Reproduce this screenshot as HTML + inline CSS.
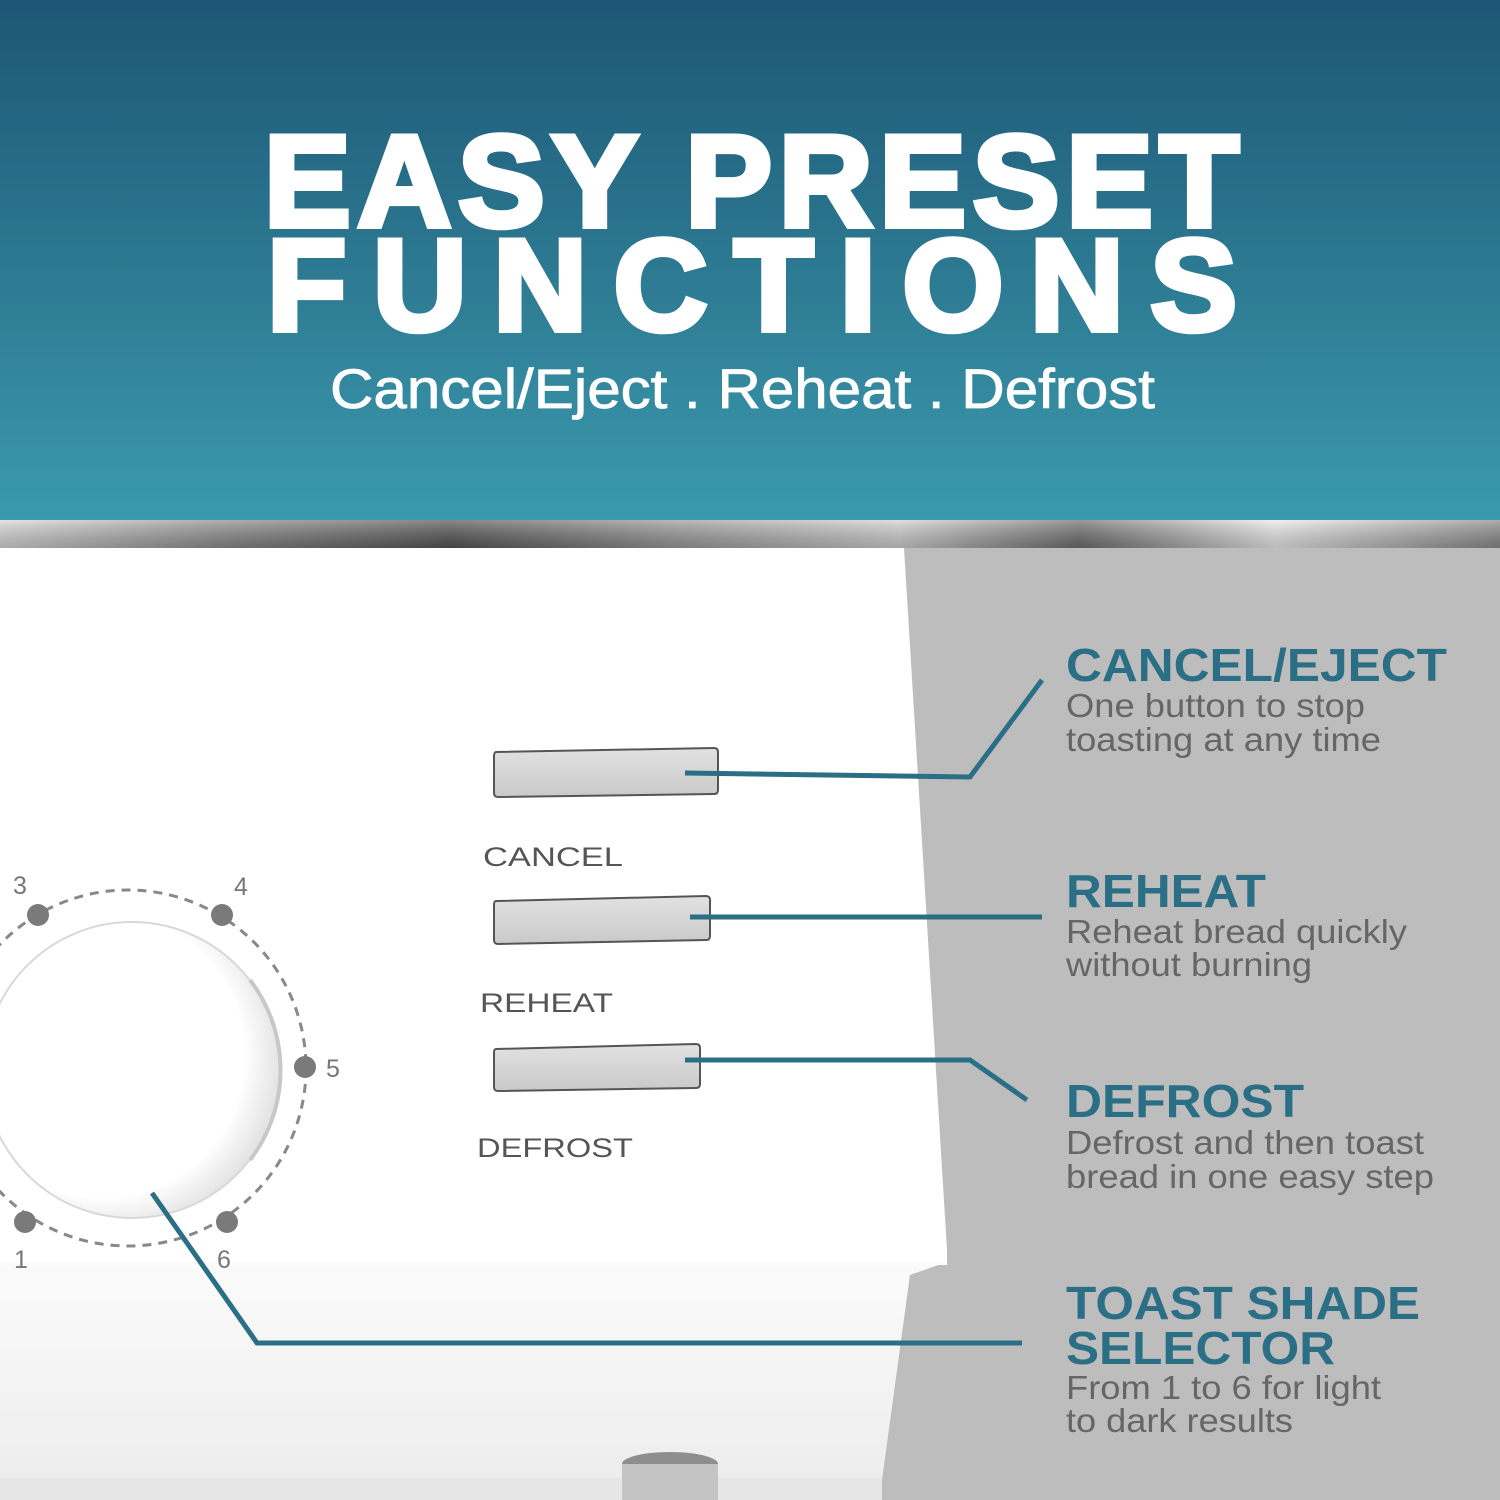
<!DOCTYPE html>
<html><head><meta charset="utf-8"><style>
html,body{margin:0;padding:0}
body{width:1500px;height:1500px;position:relative;overflow:hidden;background:#bdbdbd;font-family:"Liberation Sans",sans-serif}
</style></head><body>
<svg width="1500" height="1500" viewBox="0 0 1500 1500" xmlns="http://www.w3.org/2000/svg" style="position:absolute;left:0;top:0">
<defs>
<linearGradient id="hdr" x1="0" y1="0" x2="0" y2="1">
<stop offset="0" stop-color="#1d5675"/><stop offset="1" stop-color="#3b9aad"/></linearGradient>
<linearGradient id="metal" x1="0" y1="0" x2="1" y2="0">
<stop offset="0" stop-color="#d8d8d8"/><stop offset="0.15" stop-color="#8c8c8c"/><stop offset="0.3" stop-color="#555"/>
<stop offset="0.45" stop-color="#9a9a9a"/><stop offset="0.6" stop-color="#d0d0d0"/><stop offset="0.72" stop-color="#6e6e6e"/>
<stop offset="0.85" stop-color="#eaeaea"/><stop offset="1" stop-color="#8a8a8a"/></linearGradient>
<linearGradient id="metalv" x1="0" y1="0" x2="0" y2="1">
<stop offset="0" stop-color="#fff" stop-opacity="0.3"/><stop offset="1" stop-color="#000" stop-opacity="0.2"/></linearGradient>
<linearGradient id="btn" x1="0" y1="0" x2="0" y2="1">
<stop offset="0" stop-color="#e2e2e2"/><stop offset="1" stop-color="#c9c9c9"/></linearGradient>
<linearGradient id="base" x1="0" y1="0" x2="0" y2="1">
<stop offset="0" stop-color="#fbfbfb"/><stop offset="1" stop-color="#ededed"/></linearGradient>
<radialGradient id="knob" cx="0.4" cy="0.45" r="0.6">
<stop offset="0.8" stop-color="#ffffff"/><stop offset="1" stop-color="#e4e4e4"/></radialGradient>
</defs>
<rect x="0" y="0" width="1500" height="522" fill="url(#hdr)"/>
<rect x="0" y="520" width="1500" height="28" fill="url(#metal)"/>
<rect x="0" y="520" width="1500" height="28" fill="url(#metalv)"/>
<polygon points="0,548 904,548 947,1250 947,1265 0,1265" fill="#ffffff"/>
<polygon points="0,1262 947,1262 910,1275 882,1480 0,1480" fill="url(#base)"/>
<rect x="0" y="1478" width="882" height="22" fill="#e6e6e6"/>
<ellipse cx="670" cy="1464" rx="48" ry="12" fill="#8e8e8e"/>
<rect x="622" y="1464" width="96" height="40" fill="#c4c4c4"/>
<circle cx="128" cy="1068" r="178" fill="none" stroke="#888" stroke-width="3" stroke-dasharray="9,7"/>
<circle cx="132" cy="1070" r="148" fill="url(#knob)" stroke="#d8d8d8" stroke-width="2"/>
<path d="M 250 980 A 148 148 0 0 1 250 1160" fill="none" stroke="#c8c8c8" stroke-width="4"/>
<g fill="#7a7a7a"><circle cx="38" cy="915" r="11"/><circle cx="222" cy="915" r="11"/><circle cx="305" cy="1067" r="11"/><circle cx="227" cy="1222" r="11"/><circle cx="25" cy="1222" r="11"/></g>
<g fill="#777" font-size="25" font-family="Liberation Sans,sans-serif">
<text x="13" y="894">3</text><text x="234" y="895">4</text><text x="326" y="1077">5</text><text x="217" y="1268">6</text><text x="14" y="1268">1</text></g>
<g stroke="#555" stroke-width="2" fill="url(#btn)">
<path d="M496 752 L714 748 Q718 748 718 752 L718 790 Q718 794 714 794 L498 797 Q494 797 494 793 L494 757 Q494 752 496 752Z"/>
<path d="M496 901 L706 896 Q710 896 710 900 L710 936 Q710 940 706 940 L498 944 Q494 944 494 940 L494 905 Q494 901 496 901Z"/>
<path d="M496 1049 L696 1044 Q700 1044 700 1048 L700 1084 Q700 1088 696 1088 L498 1091 Q494 1091 494 1087 L494 1053 Q494 1049 496 1049Z"/>
</g>
<g fill="#555" font-size="27" font-family="Liberation Sans,sans-serif">
<text x="483" y="866" textLength="140" lengthAdjust="spacingAndGlyphs">CANCEL</text>
<text x="480" y="1012" textLength="133" lengthAdjust="spacingAndGlyphs">REHEAT</text>
<text x="477" y="1157" textLength="156" lengthAdjust="spacingAndGlyphs">DEFROST</text>
</g>
<g fill="none" stroke="#2a6f85" stroke-width="5" stroke-linejoin="miter">
<polyline points="685,773 970,777 1042,680"/>
<polyline points="690,917 1042,917"/>
<polyline points="685,1060 970,1060 1027,1100"/>
<polyline points="152,1193 257,1343 1022,1343"/>
</g>
<g fill="#2a6f85" font-weight="bold" font-size="46" font-family="Liberation Sans,sans-serif">
<text x="1066" y="681" textLength="381" lengthAdjust="spacingAndGlyphs">CANCEL/EJECT</text>
<text x="1066" y="907" textLength="200" lengthAdjust="spacingAndGlyphs">REHEAT</text>
<text x="1066" y="1117" textLength="238" lengthAdjust="spacingAndGlyphs">DEFROST</text>
<text x="1066" y="1319" textLength="354" lengthAdjust="spacingAndGlyphs">TOAST SHADE</text>
<text x="1066" y="1364" textLength="269" lengthAdjust="spacingAndGlyphs">SELECTOR</text>
</g>
<g fill="#666" font-size="33" font-family="Liberation Sans,sans-serif">
<text x="1066" y="717" textLength="299" lengthAdjust="spacingAndGlyphs">One button to stop</text>
<text x="1066" y="751" textLength="315" lengthAdjust="spacingAndGlyphs">toasting at any time</text>
<text x="1066" y="943" textLength="341" lengthAdjust="spacingAndGlyphs">Reheat bread quickly</text>
<text x="1066" y="976" textLength="246" lengthAdjust="spacingAndGlyphs">without burning</text>
<text x="1066" y="1154" textLength="358" lengthAdjust="spacingAndGlyphs">Defrost and then toast</text>
<text x="1066" y="1188" textLength="368" lengthAdjust="spacingAndGlyphs">bread in one easy step</text>
<text x="1066" y="1399" textLength="315" lengthAdjust="spacingAndGlyphs">From 1 to 6 for light</text>
<text x="1066" y="1432" textLength="227" lengthAdjust="spacingAndGlyphs">to dark results</text>
</g>
<g fill="#fff" font-family="Liberation Sans,sans-serif" font-weight="bold">
<text x="264" y="226" font-size="130" textLength="975" lengthAdjust="spacing" stroke="#fff" stroke-width="6">EASY PRESET</text>
<text x="267" y="330" font-size="130" textLength="970" lengthAdjust="spacing" stroke="#fff" stroke-width="6">FUNCTIONS</text>
<text x="330" y="408" font-size="56" font-weight="normal" textLength="825" lengthAdjust="spacingAndGlyphs" stroke="#fff" stroke-width="0.8">Cancel/Eject . Reheat . Defrost</text>
</g>
</svg>
</body></html>
